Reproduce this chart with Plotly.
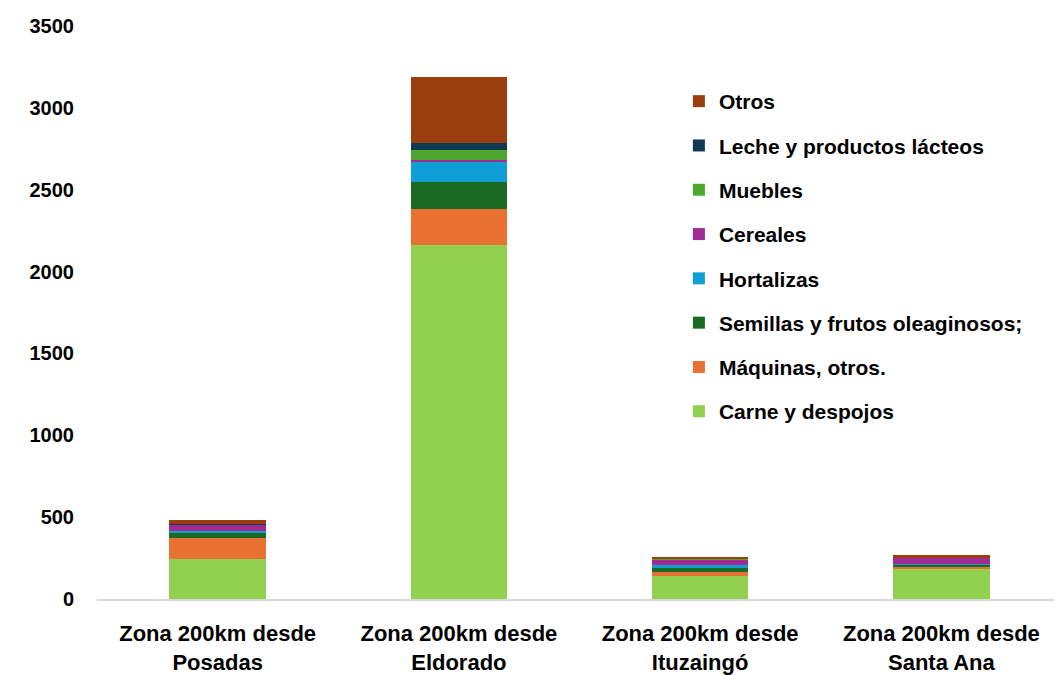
import plotly.graph_objects as go

categories = ["Zona 200km desde<br>Posadas", "Zona 200km desde<br>Eldorado",
              "Zona 200km desde<br>Ituzaingó", "Zona 200km desde<br>Santa Ana"]

series_names = ["Carne y despojos", "Máquinas, otros.", "Semillas y frutos oleaginosos;",
                "Hortalizas", "Cereales", "Muebles", "Leche y productos lácteos", "Otros"]

carne = [243, 2161, 141, 189]
maquinas = [132, 220, 24, 8]
semillas = [26, 167, 24, 16]
hortalizas = [14, 122, 17, 2]
cereales = [37, 12, 37, 39]
muebles = [3, 61, 2, 1]
leche = [2, 41, 2, 1]
otros = [26, 407, 8, 12]

values = [carne, maquinas, semillas, hortalizas, cereales, muebles, leche, otros]
colors = ["#92D050", "#E97132", "#196B24", "#0F9ED5", "#A02B93", "#4EA72E", "#0E3A52", "#9A3D0F"]

fig = go.Figure()
n = len(series_names)
for i, (name, vals, col) in enumerate(zip(series_names, values, colors)):
    fig.add_trace(go.Bar(x=categories, y=vals, name=name, legendgroup=name,
                         legendrank=n - i,
                         marker=dict(color=col, line=dict(width=0)), width=0.4))

font_family = "Liberation Sans, Arial, sans-serif"
fig.update_layout(
    barmode="stack",
    width=1054, height=667,
    margin=dict(l=89, r=0, t=18, b=76),
    paper_bgcolor="white", plot_bgcolor="white",
    font=dict(family=font_family, color="#000000"),
    legend=dict(x=0.603, y=0.904, xanchor="left", yanchor="top",
                traceorder="grouped", tracegroupgap=14,
                font=dict(size=21, family=font_family, color="#000000", weight="bold"),
                itemwidth=30, bgcolor="rgba(0,0,0,0)"),
    bargap=0.6,
)
fig.update_yaxes(range=[0, 3500], dtick=500, showgrid=False, zeroline=False,
                 showline=False, ticks="", ticklabelstandoff=22, automargin=False,
                 tickfont=dict(size=20, family=font_family, color="#000000", weight="bold"))
fig.update_xaxes(showline=True, linecolor="#D9D9D9", linewidth=2, ticks="", automargin=False,
                 ticklabelstandoff=14,
                 tickfont=dict(size=22, family=font_family, color="#000000", weight="bold"))

fig.write_html("out.html")
